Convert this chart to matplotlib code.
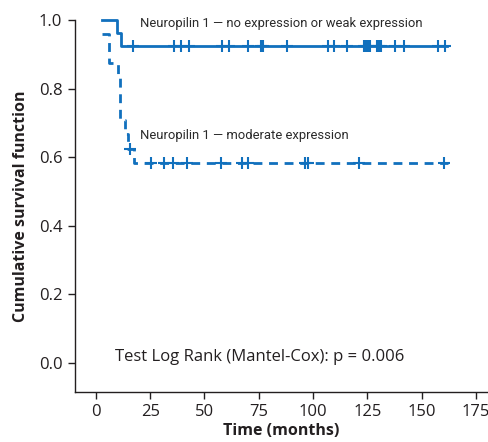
import matplotlib
matplotlib.use("Agg")
import matplotlib.pyplot as plt

# Kaplan-Meier steps
weak_t = [2.8, 9.7, 11.5, 161.6]
weak_s = [1.0, 0.962, 0.923, 0.923]
weak_cens = [17.0, 36.1, 39.3, 43.0, 58.0, 61.1, 70.0, 76.1, 76.9, 87.9,
             106.8, 109.6, 115.7, 123.5, 124.4, 125.3, 126.2, 129.3, 130.2,
             131.1, 137.8, 141.8, 157.5, 160.6]

mod_t = [2.8, 6.0, 10.1, 11.2, 13.2, 15.0, 17.4, 162.3]
mod_s = [0.958, 0.875, 0.833, 0.708, 0.667, 0.625, 0.583, 0.583]
mod_cens_t = [15.5, 25.3, 31.3, 35.3, 41.8, 57.6, 67.2, 70.2, 96.4, 97.7, 121.1, 160.3]
mod_cens_s = [0.625] + [0.583] * 11

xticks = [0, 25, 50, 75, 100, 125, 150, 175]
yticks = [0.0, 0.2, 0.4, 0.6, 0.8, 1.0]

blue = "#1170bd"
txt = "#231f20"

plt.rcParams['font.family'] = ['Open Sans', 'DejaVu Sans']

fig = plt.figure(figsize=(4.89, 4.42), dpi=100)
ax = fig.add_axes([0.153, 0.114, 0.845, 0.841])

ax.step(weak_t, weak_s, where='post', color=blue, lw=2, clip_on=False)
ax.plot(weak_cens, [weak_s[-1]] * len(weak_cens), '+', color=blue, ms=8, mew=1.5, clip_on=False)

ax.step(mod_t, mod_s, where='post', color=blue, lw=2, ls=(0, (3.2, 2.4)), clip_on=False)
ax.plot(mod_cens_t, mod_cens_s, '+', color=blue, ms=8, mew=1.5, clip_on=False)

narrow = ['Roboto', 'DejaVu Sans']
ax.text(20.4, 0.99, "Neuropilin 1 \u2014 no expression or weak expression",
        family=narrow, fontsize=9.4, color="#2a2a2a", va='center')
ax.text(20.4, 0.664, "Neuropilin 1 \u2014 moderate expression",
        family=narrow, fontsize=9.4, color="#2a2a2a", va='center')
ax.text(8.9, 0.018, "Test Log Rank (Mantel-Cox): p = 0.006",
        fontsize=12, color=txt, va='center')

ax.set_xlim(-9.7, 180.6)
ax.set_ylim(-0.083, 1.0)
ax.set_xticks(xticks)
ax.set_yticks(yticks)
ax.set_yticklabels([f"{v:.1f}" for v in yticks])
ax.spines['top'].set_visible(False)
ax.spines['right'].set_visible(False)
for s in ('left', 'bottom'):
    ax.spines[s].set_color(txt)
    ax.spines[s].set_linewidth(1.0)
ax.tick_params(direction='out', length=5, width=1, colors=txt, labelsize=12, pad=4)

ax.set_xlabel("Time (months)", fontsize=11.5, fontweight='bold', color=txt, labelpad=2)
ax.set_ylabel("Cumulative survival function", fontsize=11.5, fontweight='bold', color=txt, labelpad=7)

fig.savefig("out.png", dpi=100)
